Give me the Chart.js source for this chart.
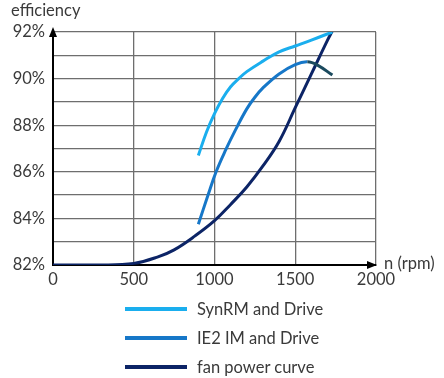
<!DOCTYPE html>
<html>
<head>
<meta charset="utf-8">
<script src="https://cdn.jsdelivr.net/npm/chart.js@4.4.1/dist/chart.umd.min.js"></script>
<style>
  body { margin: 0; background: #fff; }
  #wrap { position: relative; width: 444px; height: 378px; font-family: Lato, sans-serif; color: #3a3a3a; }
  #chart { position: absolute; left: 0; top: 0; }
  .lbl { position: absolute; font-size: 16.5px; white-space: nowrap; }
  #legend { position: absolute; left: 125px; top: 294px; }
  #legend div { height: 29px; display: flex; align-items: center; font-size: 16.5px; }
  #legend span.sw { display: inline-block; width: 62px; height: 4px; margin-right: 10px; }
</style>
</head>
<body>
<div id="wrap">
  <canvas id="chart" width="444" height="378"></canvas>
  <div class="lbl" style="left:11px; top:0px;">efficiency</div>
  <div class="lbl" style="left:384px; top:253px;">n (rpm)</div>
  <div id="legend"></div>
</div>
<script>
// series names
var names = ["SynRM and Drive", "IE2 IM and Drive", "fan power curve"];
var colors = ["#1aaeee", "#1677c8", "#0c2466"];

// speed (rpm) and efficiency (%)
var synRpm = [900, 950, 1000, 1050, 1100, 1150, 1200, 1300, 1400, 1500, 1600, 1730];
var synEff = [86.7, 87.7, 88.5, 89.15, 89.65, 90.0, 90.3, 90.75, 91.15, 91.4, 91.65, 92.0];

var ie2Rpm = [900, 960, 1010, 1070, 1130, 1200, 1250, 1300, 1400, 1500, 1575, 1640, 1730];
var ie2Eff = [83.75, 85.0, 86.0, 86.95, 87.8, 88.7, 89.2, 89.6, 90.2, 90.6, 90.72, 90.57, 90.15];

var fanRpm = [0, 300, 500, 650, 750, 880, 1000, 1100, 1200, 1300, 1400, 1500, 1600, 1700, 1730];
var fanEff = [82.0, 82.0, 82.07, 82.35, 82.65, 83.25, 83.9, 84.6, 85.35, 86.25, 87.3, 88.75, 90.2, 91.65, 92.05];

// axis ticks
var xTicks = [0, 500, 1000, 1500, 2000];
var yTicks = [82, 84, 86, 88, 90, 92];

function pts(xs, ys) {
    var out = [];
    for (var i = 0; i < xs.length; i++) out.push({x: xs[i], y: ys[i]});
    return out;
}

// arrows at the end of the axes
var arrows = {
    id: 'arrows',
    afterDraw: function(chart) {
        var c = chart.ctx, a = chart.chartArea;
        c.save();
        c.fillStyle = '#000';
        c.beginPath();
        c.moveTo(a.left, a.top - 5);
        c.lineTo(a.left - 4, a.top + 5);
        c.lineTo(a.left + 4, a.top + 5);
        c.fill();
        c.beginPath();
        c.moveTo(a.right + 1, a.bottom);
        c.lineTo(a.right - 9, a.bottom - 4);
        c.lineTo(a.right - 9, a.bottom + 4);
        c.fill();
        c.restore();
    }
};

var ctx = document.getElementById('chart').getContext('2d');
var chart = new Chart(ctx, {
    type: 'scatter',
    data: {
        datasets: [{
            label: names[0],
            data: pts(synRpm, synEff),
            borderColor: colors[0],
            backgroundColor: colors[0]
        }, {
            label: names[1],
            data: pts(ie2Rpm, ie2Eff),
            borderColor: colors[1],
            backgroundColor: colors[1],
            segment: {
                // tail after crossing the fan curve looks darker
                borderColor: function(s) { return s.p0DataIndex >= ie2Rpm.length - 3 ? '#1b4a5e' : undefined; }
            }
        }, {
            label: names[2],
            data: pts(fanRpm, fanEff),
            borderColor: colors[2],
            backgroundColor: colors[2]
        }]
    },
    options: {
        responsive: false,
        animation: false,
        showLine: true,
        elements: {
            point: { radius: 0 },
            line: { borderWidth: 3, tension: 0.4 }
        },
        layout: { padding: { left: 0, right: 68, top: 32, bottom: 88 } },
        plugins: { legend: { display: false }, tooltip: { enabled: false } },
        scales: {
            x: {
                type: 'linear', min: 0, max: 2000,
                afterFit: function(s) { s.height = 25; },
                grid: { color: '#6e6e6e', lineWidth: 1.3, drawTicks: false },
                border: { color: '#000', width: 2 },
                ticks: {
                    stepSize: 250, padding: 5, color: '#3a3a3a', maxRotation: 0,
                    font: { family: 'Lato', size: 16.5 },
                    callback: function(v) { return xTicks.indexOf(v) >= 0 ? v : ''; }
                }
            },
            y: {
                min: 82, max: 92,
                afterFit: function(s) { s.width = 53; },
                grid: { color: '#6e6e6e', lineWidth: 1.3, drawTicks: false },
                border: { color: '#000', width: 2 },
                ticks: {
                    stepSize: 1, padding: 8, color: '#3a3a3a',
                    font: { family: 'Lato', size: 16.5 },
                    callback: function(v) { return yTicks.indexOf(v) >= 0 ? v + '%' : ''; }
                }
            }
        }
    },
    plugins: [arrows]
});

// legend as html, one row per series
var lg = document.getElementById('legend');
chart.data.datasets.forEach(function(ds) {
    var row = document.createElement('div');
    var sw = document.createElement('span');
    sw.className = 'sw';
    sw.style.background = ds.borderColor;
    row.appendChild(sw);
    row.appendChild(document.createTextNode(ds.label));
    lg.appendChild(row);
});
</script>
</body>
</html>
